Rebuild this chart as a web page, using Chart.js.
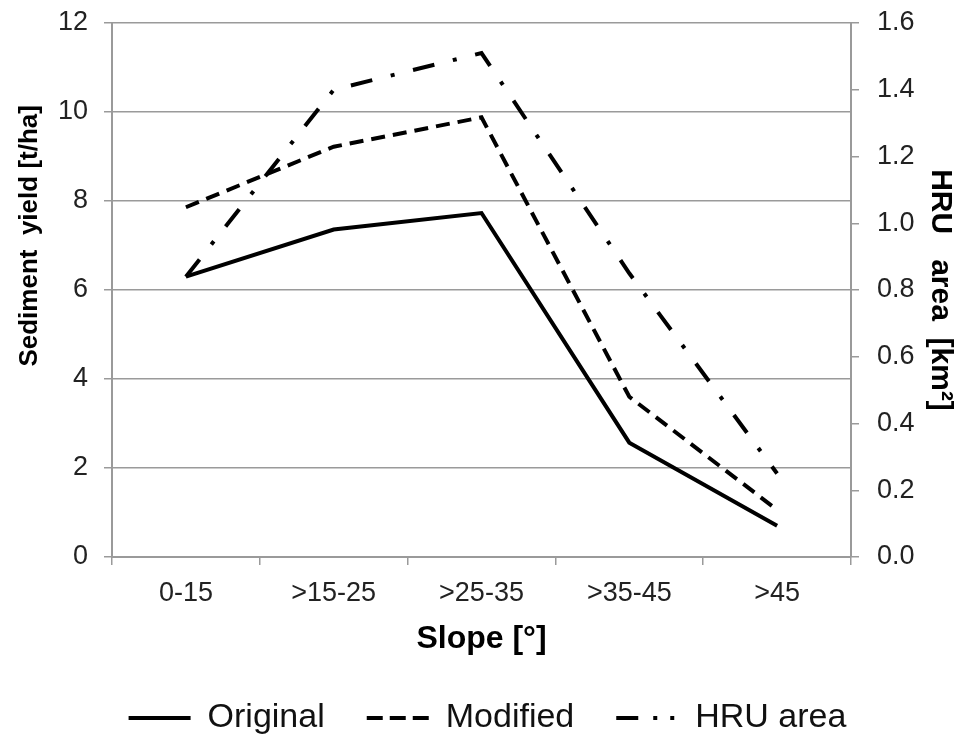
<!DOCTYPE html>
<html>
<head>
<meta charset="utf-8">
<title>Sediment yield by slope</title>
<script src="https://cdn.jsdelivr.net/npm/chart.js@4.4.1/dist/chart.umd.min.js"></script>
<style>
  html, body { margin: 0; padding: 0; background: #fff; }
  #wrap { width: 959px; height: 734px; }
</style>
</head>
<body>
<div id="wrap"><canvas id="chSlope"></canvas></div>
<script>
// =========================
// Data
// =========================
const SLOPES = ['0-15', '>15-25', '>25-35', '>35-45', '>45'];

// Sediment yield [t/ha]
const original = [6.30, 7.36, 7.73, 2.57, 0.70];
const modified = [7.86, 9.22, 9.88, 3.60, 1.06];

// HRU area [km2] (right axis)
const hruArea = [0.84, 1.40, 1.51, 0.85, 0.25];

// axis ranges
const yieldTicks = { min: 0, max: 12, step: 2 };
const areaTicks = { min: 0, max: 1.6, step: 0.2 };

// =========================
// Common styles
// =========================
const FONT = '"Liberation Sans", Arial, sans-serif';
const gridGray = '#9a9a9a';
const tickColor = '#222';
const tickFont = { family: FONT, size: 27 };
const legendDash = [[], [16, 7], [22, 15, 4, 13, 4, 60]];

// leading blanks push the rotated left title up a bit
const leftTitle = ' '.repeat(15) + 'Sediment  yield [t/ha]';

// fixed axis box sizes; drop the extra top/bottom room Chart.js keeps for tick labels
const fitY = w => s => { s.width = w; s.paddingTop = 0; s.paddingBottom = 0; };

new Chart(document.getElementById('chSlope'), {
  type: 'line',
  data: {
    labels: SLOPES,
    datasets: [
      { label: 'Original', data: original, yAxisID: 'y',
        borderColor: '#000', borderWidth: 4, pointRadius: 0, tension: 0 },
      { label: 'Modified', data: modified, yAxisID: 'y',
        borderColor: '#000', borderWidth: 4, borderDash: [14, 8], pointRadius: 0, tension: 0 },
      { label: 'HRU area', data: hruArea, yAxisID: 'y1',
        borderColor: '#000', borderWidth: 4, borderDash: [22, 19, 4, 19], pointRadius: 0, tension: 0 }
    ]
  },
  options: {
    responsive: true,
    maintainAspectRatio: false,
    animation: false,
    layout: { padding: { top: 23, left: 16, right: 0, bottom: -11 } },
    scales: {
      x: {
        offset: true,
        grid: { offset: true, drawOnChartArea: false, drawTicks: true, tickLength: 8, color: gridGray, lineWidth: 1.5 },
        border: { color: gridGray, width: 2 },
        ticks: { color: tickColor, padding: 12, font: tickFont },
        title: { display: true, text: 'Slope [°]', color: '#000',
                 font: { family: FONT, size: 32, weight: 'bold' }, padding: { top: 0, bottom: 1 } },
        afterFit: s => { s.height = 102; }
      },
      y: {
        position: 'left',
        min: yieldTicks.min, max: yieldTicks.max,
        ticks: { stepSize: yieldTicks.step, color: tickColor, padding: 16, font: tickFont },
        grid: { color: gridGray, lineWidth: 1.5, tickLength: 8 },
        border: { color: gridGray, width: 2 },
        title: { display: true, text: leftTitle, color: '#000',
                 font: { family: FONT, size: 26, weight: 'bold', lineHeight: 1.1 }, padding: { top: 0, bottom: 0 } },
        afterFit: fitY(96)
      },
      y1: {
        position: 'right',
        min: areaTicks.min, max: areaTicks.max,
        ticks: { stepSize: areaTicks.step, color: tickColor, padding: 18, font: tickFont,
                 callback: v => Number(v).toFixed(1) },
        grid: { drawOnChartArea: false, color: gridGray, lineWidth: 1.5, tickLength: 8 },
        border: { color: gridGray, width: 2 },
        title: { display: true, text: 'HRU   area  [km²]', color: '#000',
                 font: { family: FONT, size: 30, weight: 'bold' }, padding: { top: 1, bottom: 0 } },
        afterFit: fitY(108)
      }
    },
    plugins: {
      tooltip: { enabled: false },
      legend: {
        position: 'bottom',
        labels: {
          usePointStyle: true,
          pointStyle: 'line',
          pointStyleWidth: 62,
          padding: 42,
          color: '#111',
          font: { family: FONT, size: 34 },
          generateLabels: chart => {
            const items = Chart.defaults.plugins.legend.labels.generateLabels(chart);
            items.forEach((it, i) => { it.lineDash = legendDash[i]; it.lineWidth = 4; });
            return items;
          }
        }
      }
    }
  }
});
</script>
</body>
</html>
